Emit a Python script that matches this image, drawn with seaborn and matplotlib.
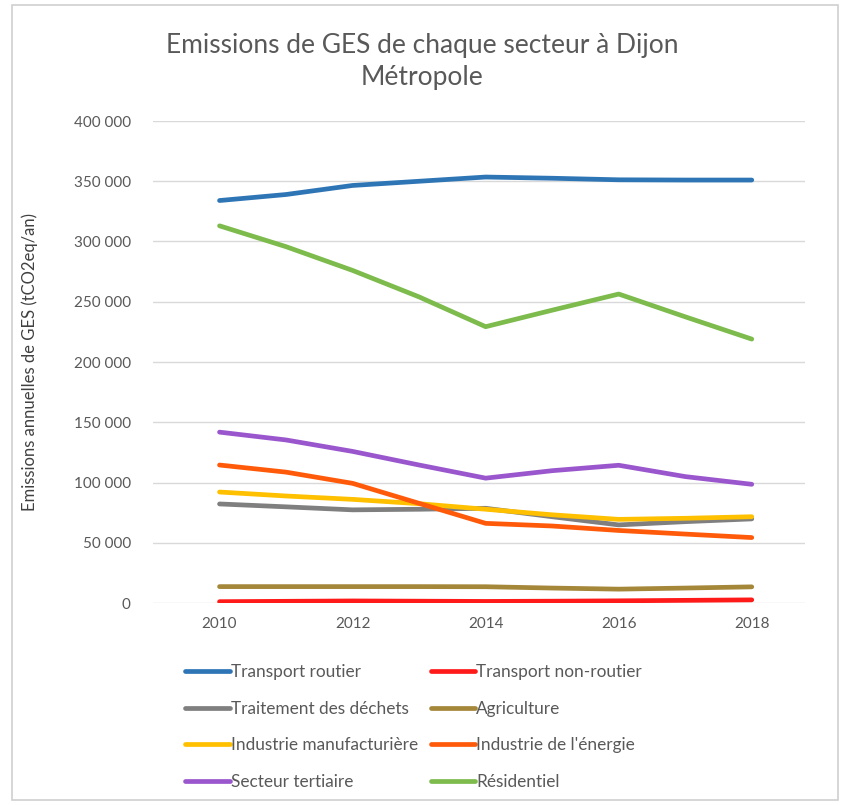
import matplotlib
matplotlib.use("Agg")
import matplotlib.pyplot as plt
import seaborn as sns
import pandas as pd
from matplotlib.ticker import FuncFormatter, FixedLocator
from matplotlib.patches import Rectangle
from matplotlib.lines import Line2D

years = [2010, 2011, 2012, 2013, 2014, 2015, 2016, 2017, 2018]
transport_routier = [334000, 339000, 346500, 350000, 353500, 352500, 351200, 351000, 351000]
transport_non_routier = [1100, 1400, 1700, 1500, 1300, 1500, 1800, 2200, 2600]
traitement_dechets = [82200, 79800, 77300, 77800, 78600, 71600, 64800, 67500, 69800]
agriculture = [13600, 13600, 13600, 13600, 13500, 12400, 11500, 12400, 13400]
industrie_manuf = [92100, 88800, 86000, 82400, 77800, 73200, 69400, 70300, 71600]
industrie_energie = [114500, 108600, 99300, 82700, 66100, 63900, 60200, 57200, 54300]
secteur_tertiaire = [141800, 135300, 125800, 114500, 103600, 109800, 114300, 104900, 98500]
residentiel = [313000, 295700, 276000, 254000, 229300, 243000, 256400, 237500, 219000]

series_names = ["Transport routier", "Transport non-routier", "Traitement des déchets",
                "Agriculture", "Industrie manufacturière", "Industrie de l'énergie",
                "Secteur tertiaire", "Résidentiel"]
series_values = [transport_routier, transport_non_routier, traitement_dechets, agriculture,
                 industrie_manuf, industrie_energie, secteur_tertiaire, residentiel]
colors = ["#2E75B6", "#FF1A1A", "#7F7F7F", "#A5873A", "#FFC000", "#FF5A0A", "#9A57CD", "#7CBB4C"]

y_ticks = [0, 50000, 100000, 150000, 200000, 250000, 300000, 350000, 400000]
x_ticks = [2010, 2012, 2014, 2016, 2018]

title_line1 = "Emissions de GES de chaque secteur à Dijon"
title_line2 = "Métropole"
ylabel = "Emissions annuelles de GES (tCO2eq/an)"

rows = []
for name, vals in zip(series_names, series_values):
    for yr, v in zip(years, vals):
        rows.append({"Année": yr, "Valeur": v, "Secteur": name})
df = pd.DataFrame(rows)

sns.set_theme(style="white")
plt.rcParams["font.family"] = ["Lato", "DejaVu Sans"]

fig = plt.figure(figsize=(8.45, 8.05), dpi=100)
fig.patch.set_facecolor("white")
fig.patches.append(Rectangle((12/845, 5/805), 826/845, 795/805, transform=fig.transFigure,
                             fill=False, edgecolor="#D0D0D0", linewidth=1.2))

ax = fig.add_axes([153/845, 1 - 603/805, (805 - 153)/845, (603 - 121)/805])
palette = dict(zip(series_names, colors))
sns.lineplot(data=df, x="Année", y="Valeur", hue="Secteur", hue_order=series_names,
             palette=palette, linewidth=3.4, ax=ax, legend=False, solid_capstyle="round")

ax.set_xlim(2009.0, 2018.8)
ax.set_ylim(0, 400000)
ax.yaxis.set_major_locator(FixedLocator(y_ticks))
ax.xaxis.set_major_locator(FixedLocator(x_ticks))
ax.yaxis.set_major_formatter(FuncFormatter(lambda v, p: f"{int(v):,}".replace(",", " ")))
ax.xaxis.set_major_formatter(FuncFormatter(lambda v, p: f"{int(v)}"))
ax.grid(axis="y", color="#D9D9D9", linewidth=1.0)
ax.set_axisbelow(True)
for s in ax.spines.values():
    s.set_visible(False)
ax.tick_params(axis="both", length=0, labelsize=11, colors="#595959", pad=16)
ax.tick_params(axis="x", pad=10)
ax.set_xlabel("")
ax.set_ylabel(ylabel, fontsize=12, color="#404040")
ax.yaxis.set_label_coords(-(153 - 38)/652, 0.5)

fig.text(0.5, 1 - 45/805, title_line1, ha="center", va="center",
         fontsize=19, color="#595959")
fig.text(0.5, 1 - 78/805, title_line2, ha="center", va="center", fontsize=19, color="#595959")

order = [0, 2, 4, 6, 1, 3, 5, 7]
handles = [Line2D([0], [0], color=colors[i], lw=3.4) for i in order]
labels = [series_names[i] for i in order]
leg = fig.legend(handles, labels, ncol=2, loc="upper left",
                 bbox_to_anchor=(185/845, 1 - 664/805), frameon=False,
                 fontsize=12.4, handlelength=2.6, handletextpad=0.05,
                 columnspacing=0.75, labelspacing=1.2, labelcolor="#595959",
                 borderpad=0, borderaxespad=0)

fig.savefig("out.png", dpi=100, facecolor="white")
